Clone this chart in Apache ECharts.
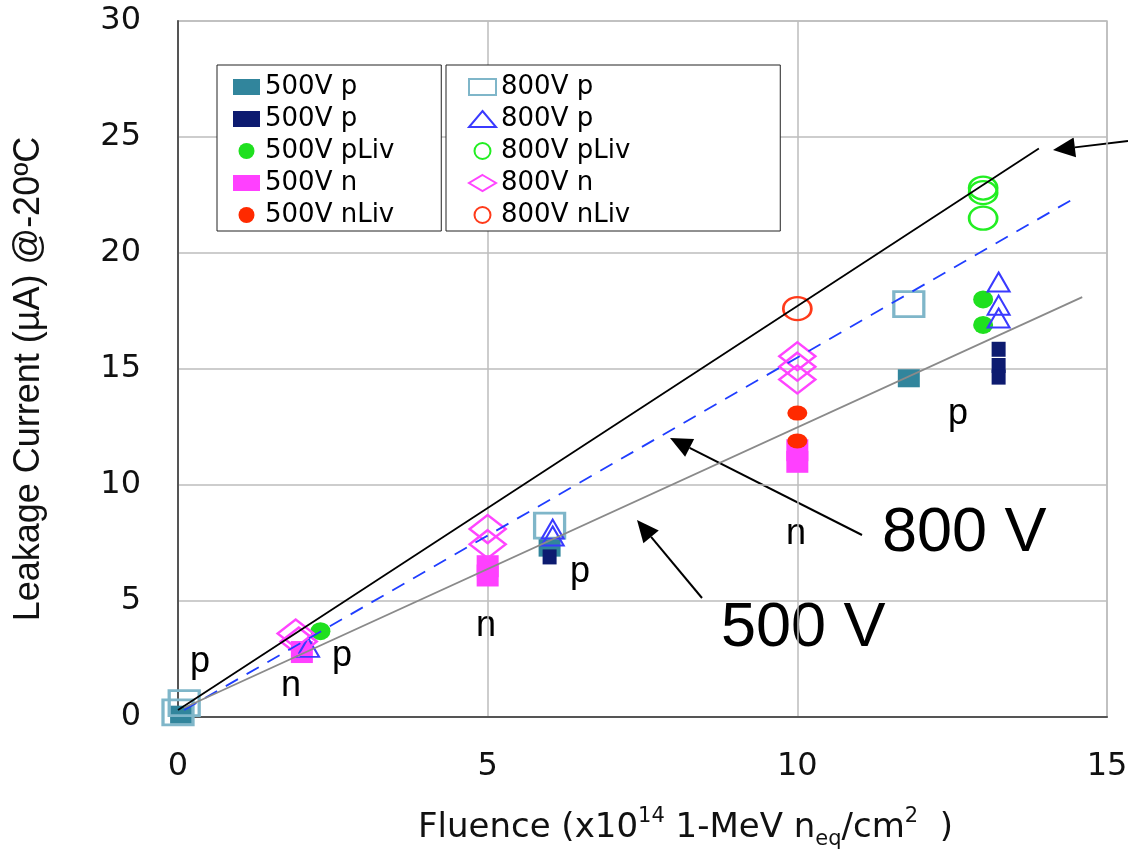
<!DOCTYPE html>
<html>
<head>
<meta charset="utf-8">
<script src="https://cdn.jsdelivr.net/npm/echarts@6/dist/echarts.min.js"></script>
<style>
  html, body { margin: 0; padding: 0; background: #fff; }
  #chart { width: 1128px; height: 850px; }
</style>
</head>
<body>
<div id="chart"></div>
<script>
// Axis ticks
const xTicks = [0, 5, 10, 15];
const yTicks = [0, 5, 10, 15, 20, 25, 30];

// Leakage current measurements: [fluence (1e14 neq/cm2), current (uA)]
const p500Series = [[0.05, 0.1], [6.0, 7.3], [11.8, 14.6]];
const p500Pre    = [[6.0, 6.9], [13.25, 15.85], [13.25, 15.15], [13.25, 14.65]];
const pLiv500    = [[2.3, 3.7], [13.0, 18.0], [13.0, 16.9]];
const n500       = [[2.0, 2.8], [5.0, 6.5], [5.0, 6.1], [10.0, 11.5], [10.0, 11.0]];
const nLiv500    = [[10.0, 13.1], [10.0, 11.9]];
const p800Series = [[0.0, 0.2], [0.1, 0.6], [6.0, 8.25], [11.8, 17.8]];
const p800Pre    = [[2.1, 3.0], [6.05, 8.1], [6.05, 7.8], [13.25, 18.75], [13.25, 17.75], [13.25, 17.2]];
const pLiv800    = [[13.0, 22.8], [13.0, 22.6], [13.0, 21.5]];
const n800       = [[1.9, 3.6], [1.95, 3.25], [5.0, 8.1], [5.0, 7.45], [10.0, 15.55], [10.0, 15.1], [10.0, 14.55]];
const nLiv800    = [[10.0, 17.6]];

// Linear trends
const trendTop = [[0, 0.3], [13.9, 24.5]];
const trend800 = [[0.1, 0.3], [14.5, 22.4]];
const trend500 = [[0.1, 0.4], [14.6, 18.1]];

// Legend entries
const legend500 = ['500V p', '500V p (pre)', '500V pLiv', '500V n', '500V nLiv'];
const legend800 = ['800V p', '800V p (pre)', '800V pLiv', '800V n', '800V nLiv'];

const chartFont = 'DejaVu Sans';
const noteFont = 'Liberation Sans';

function filled(name, data, symbol, size, color) {
  return {
    name, type: 'scatter', data, symbol, symbolSize: size, z: 2,
    itemStyle: { color, opacity: 1 }
  };
}
function hollow(name, data, symbol, size, color, bw) {
  return {
    name, type: 'scatter', data, symbol, symbolSize: size, z: 2,
    itemStyle: { color: 'rgba(255,255,255,0)', borderColor: color, borderWidth: bw, opacity: 1 }
  };
}
function trend(data, color, type, width) {
  return {
    type: 'line', data, symbol: 'none', z: 4, silent: true,
    lineStyle: { color, type, width }
  };
}

function arrow(x1, y1, x2, y2) {
  const a = Math.atan2(y2 - y1, x2 - x1), L = 22, W = 10;
  const bx = x2 - L * Math.cos(a), by = y2 - L * Math.sin(a);
  const px = -Math.sin(a), py = Math.cos(a);
  return [
    { type: 'line', shape: { x1, y1, x2: bx, y2: by }, style: { stroke: '#000', lineWidth: 2 } },
    { type: 'polygon', shape: { points: [[x2, y2], [bx + W * px, by + W * py], [bx - W * px, by - W * py]] },
      style: { fill: '#000' } }
  ];
}
function note(text, x, y, size) {
  return { type: 'text', x, y, style: { text, font: size + 'px "' + noteFont + '"', fill: '#000',
    textAlign: 'center', textVerticalAlign: 'middle' } };
}
function curve(x1, y1, cx, cy, x2, y2) {
  return { type: 'bezierCurve', shape: { x1, y1, x2, y2, cpx1: cx, cpy1: cy },
    style: { stroke: '#444', lineWidth: 1.6, fill: null } };
}
function seg(x1, y1, x2, y2) {
  return { type: 'line', shape: { x1, y1, x2, y2 }, style: { stroke: '#444', lineWidth: 1.6 } };
}

const legendBase = {
  orient: 'vertical', selectedMode: false,
  backgroundColor: '#fff', borderColor: '#222', borderWidth: 1,
  itemWidth: 27, itemHeight: 16, itemGap: 6,
  formatter: n => n.replace(' (pre)', ''),
  textStyle: { fontFamily: chartFont, fontSize: 26, color: '#000', lineHeight: 24 }
};

const chart = echarts.init(document.getElementById('chart'), null, { renderer: 'canvas' });
chart.setOption({
  animation: false,
  backgroundColor: '#fff',
  grid: { left: 178, right: 21, top: 21, bottom: 133, outerBoundsMode: 'none', containLabel: false,
    show: true, borderColor: '#bdbdbd', borderWidth: 1.5 },
  xAxis: {
    type: 'value', min: xTicks[0], max: xTicks[xTicks.length - 1], interval: 5,
    axisLine: { lineStyle: { color: '#555', width: 2 } },
    axisTick: { show: false },
    axisLabel: { margin: 34, fontFamily: chartFont, fontSize: 32, color: '#111' },
    splitLine: { lineStyle: { color: '#bdbdbd', width: 1.5 } },
    name: '{a|Fluence (x10}{s|14}{a| 1-MeV n}{b|eq}{a|/cm}{s|2}{a|  )}',
    nameLocation: 'middle', nameGap: 89,
    nameTextStyle: {
      padding: [0, 0, 0, 86],
      rich: {
        a: { fontFamily: chartFont, fontSize: 34, color: '#111', lineHeight: 44, verticalAlign: 'middle' },
        s: { fontFamily: chartFont, fontSize: 21, color: '#111', lineHeight: 44, verticalAlign: 'top' },
        b: { fontFamily: chartFont, fontSize: 21, color: '#111', lineHeight: 44, verticalAlign: 'bottom' }
      }
    }
  },
  yAxis: {
    type: 'value', min: yTicks[0], max: yTicks[yTicks.length - 1], interval: 5,
    axisLine: { show: true, lineStyle: { color: '#555', width: 2 } },
    axisTick: { show: false },
    axisLabel: { margin: 37, fontFamily: chartFont, fontSize: 32, color: '#111' },
    splitLine: { lineStyle: { color: '#bdbdbd', width: 1.5 } },
    name: 'Leakage Current (\u00b5A) @-20\u00baC',
    nameLocation: 'middle', nameRotate: 90, nameGap: 131,
    nameTextStyle: { fontFamily: noteFont, fontSize: 36, color: '#111', padding: [0, 20, 0, 0] }
  },
  legend: [
    Object.assign({}, legendBase, { left: 217, top: 65, data: legend500, padding: [9, 47, 3, 16] }),
    Object.assign({}, legendBase, { left: 446, top: 65, data: legend800, padding: [9, 150, 3, 22] })
  ],
  series: [
    filled('500V p', p500Series, 'rect', [22, 18], '#31859c'),
    filled('500V p (pre)', p500Pre, 'rect', [14, 15], '#0d1b70'),
    filled('500V pLiv', pLiv500, 'circle', [20, 18], '#1fe01f'),
    filled('500V n', n500, 'rect', [22, 22], '#ff40ff'),
    filled('500V nLiv', nLiv500, 'circle', [20, 15], '#ff2a00'),
    hollow('800V p', p800Series, 'rect', [30, 25], '#7fb6c9', 3),
    hollow('800V p (pre)', p800Pre, 'triangle', [22, 19], '#3a3aff', 2),
    hollow('800V pLiv', pLiv800, 'circle', [28, 23], '#22ee22', 2.5),
    hollow('800V n', n800, 'diamond', [36, 28], '#ff44ff', 2.5),
    hollow('800V nLiv', nLiv800, 'circle', [28, 23], '#ff3a1a', 2.5),
    trend(trendTop, '#000', 'solid', 1.8),
    trend(trend800, '#1f3dff', [14, 10], 1.8),
    trend(trend500, '#8a8a8a', 'solid', 1.8)
  ],
  graphic: [
    { type: 'text', left: 675, top: 72, style: { text: 'Series', font: '23px "' + chartFont + '"', fill: '#111' } },
    { type: 'text', left: 684, top: 146, style: { text: 'pre-', font: '23px "' + chartFont + '"', fill: '#111' } },
    { type: 'text', left: 680, top: 169, style: { text: 'Series', font: '23px "' + chartFont + '"', fill: '#111' } },
    curve(650, 112, 660, 112, 660, 121),
    seg(660, 121, 660, 157),
    curve(660, 157, 660, 165, 672, 165),
    curve(672, 165, 660, 165, 660, 173),
    seg(660, 173, 660, 208),
    curve(660, 208, 660, 217, 650, 217),
    ...arrow(1128, 141, 1053, 150),
    ...arrow(862, 535, 670, 438),
    ...arrow(702, 598, 637, 520),
    { type: 'text', x: 882, y: 534, style: { text: '800 V', font: '63px "' + noteFont + '"', fill: '#000', textVerticalAlign: 'middle' } },
    { type: 'text', x: 721, y: 629, style: { text: '500 V', font: '63px "' + noteFont + '"', fill: '#000', textVerticalAlign: 'middle' } },
    note('p', 200, 662, 36),
    note('n', 291, 686, 36),
    note('p', 342, 656, 36),
    note('n', 486, 626, 36),
    note('p', 580, 572, 36),
    note('n', 796, 534, 36),
    note('p', 958, 414, 36)
  ]
});
</script>
</body>
</html>
